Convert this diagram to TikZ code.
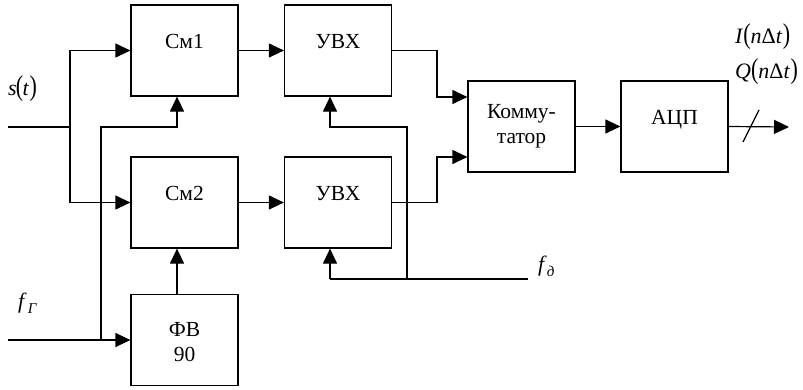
\documentclass[tikz,border=0pt]{standalone}
\usepackage{fontspec}
\setmainfont{Liberation Serif}
\usetikzlibrary{arrows.meta,calc}
\newcommand{\lp}{\scalebox{1}[1.3]{(}}
\newcommand{\rp}{\scalebox{1}[1.3]{)}}
\begin{document}
\begin{tikzpicture}[x=1pt,y=-1pt,
  blk/.style={draw,line width=1.2pt,minimum width=107pt,minimum height=91pt,inner sep=0pt},
  txt/.style={font=\fontsize{21.5}{25}\selectfont,inner sep=0pt,anchor=base,align=center},
  lbl/.style={font=\fontsize{22}{25}\selectfont,inner sep=0pt,anchor=base west},
  wire/.style={line width=1.2pt},
  arr/.style={line width=1.2pt,-{Triangle[length=15pt,width=14pt]}}]
\useasboundingbox (0,0) rectangle (803,389);
% blocks
\node[blk] (cm1) at (184.5,50.5) {};
\node[blk] (uvx1) at (338,50.5) {};
\node[blk] (cm2) at (184.5,202.5) {};
\node[blk] (uvx2) at (338,202.5) {};
\node[blk] (fv) at (184.5,340) {};
\node[blk] (kom) at (521.5,126.5) {};
\node[blk] (adc) at (674.5,126.5) {};
% block texts
\node[txt] (t1) at (184.5,48.5) {См1};
\node[txt] (t2) at (338,48.5) {УВХ};
\node[txt] (t3) at (184.5,200.5) {См2};
\node[txt] (t4) at (338,200.5) {УВХ};
\node[txt] (t5) at (184.5,336.5) {ФВ};
\node[txt] (t6) at (184.5,361.5) {90};
\node[txt] (t7) at (521.5,118.5) {Комму-};
\node[txt] (t8) at (521.5,143.5) {татор};
\node[txt] (t9) at (674.5,124) {АЦП};
% labels
\node[lbl] (ls) at (8,95) {\textit{s}\kern-1pt\lp\kern-0.5pt\textit{t}\kern0.5pt\rp};
\node[lbl] (lfg) at (18,308) {\textit{f}\kern1pt\raisebox{-5pt}{\fontsize{15}{15}\selectfont\textit{Г}}};
\node[lbl] (lfd) at (538,271) {\textit{f}\raisebox{-5pt}{\fontsize{15}{15}\selectfont\textit{д}}};
\node[lbl] (li) at (735,43) {\textit{I}\lp\textit{n}Δ\textit{t}\kern0.5pt\rp};
\node[lbl] (lq) at (735,78) {\textit{Q}\lp\textit{n}Δ\textit{t}\kern0.5pt\rp};
% coordinates
\coordinate (sin) at (8,127);
\coordinate (sj) at (70,127);
\coordinate (fin) at (8,340);
\coordinate (fj) at (101,340);
\coordinate (c1) at (177,127);
\coordinate (c2) at (330,127);
\coordinate (c3) at (330,279);
\coordinate (fdj) at (407,279);
\coordinate (fd) at (528,279);
\coordinate (c4) at (437,51);
\coordinate (out) at (789,127);
\coordinate (sl1) at (743,142);
\coordinate (sl2) at (759,110);
% connectors
\draw[wire] (sin) -- (sj);
\draw[arr] (sj) |- (cm1.west);
\draw[arr] (sj) |- (cm2.west);
\draw[arr] (fin) -- (fv.west);
\draw[arr] (fj) |- (c1) -- (c1 |- cm1.south);
\draw[arr] (c1 |- fv.north) -- (c1 |- cm2.south);
\draw[arr] (cm1.east) -- (uvx1.west);
\draw[arr] (cm2.east) -- (uvx2.west);
\draw[wire] (fd) -- (c3);
\draw[arr] (c3) -- (c3 |- uvx2.south);
\draw[arr] (fdj) |- (c2) -- (c2 |- uvx1.south);
\draw[arr] (uvx1.east) -| (c4) |- ([yshift=29.5pt]kom.west);
\draw[arr] (uvx2.east) -| (c4 |- uvx2.east) |- ([yshift=-30.5pt]kom.west);
\draw[arr] (kom.east) -- (adc.west);
\draw[arr] (adc.east) -- (out);
\draw[wire] (sl1) -- (sl2);
\end{tikzpicture}
\end{document}
